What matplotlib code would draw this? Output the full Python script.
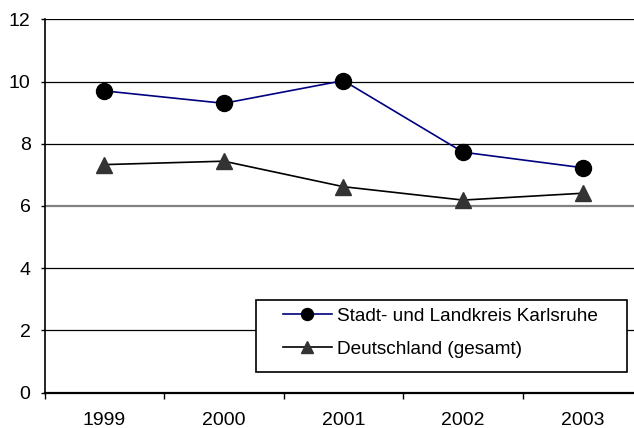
import matplotlib.pyplot as plt
from matplotlib.patches import Rectangle
import numpy as np

plt.rcParams['font.family'] = ['Liberation Sans', 'DejaVu Sans']

years = ['1999', '2000', '2001', '2002', '2003']
karlsruhe = [9.70, 9.30, 10.03, 7.73, 7.23]
deutschland = [7.33, 7.44, 6.62, 6.19, 6.41]

fig = plt.figure(figsize=(6.34, 4.28), dpi=100)
ax = fig.add_axes([0.0702, 0.0825, 0.943, 0.8724])

x = np.arange(len(years))
ax.plot(x, karlsruhe, color='#000080', lw=1.2, marker='o', ms=11.5,
        mfc='black', mec='black', label='Stadt- und Landkreis Karlsruhe', zorder=3)
ax.plot(x, deutschland, color='black', lw=1.2, marker='^', ms=11.5,
        mfc='#333333', mec='#333333', label='Deutschland (gesamt)', zorder=3)

ax.set_xlim(-0.5, len(years) - 0.5)
ax.set_ylim(0, 12)
ax.set_yticks(range(0, 13, 2))
for v in range(2, 13, 2):
    ax.axhline(v, color='#808080' if v == 6 else 'black', lw=1.6 if v == 6 else 0.9, zorder=1)

ax.set_xticks(x)
ax.set_xticklabels(years)
ax.set_xticks(np.arange(-0.5, len(years), 1), minor=True)
ax.tick_params(axis='x', which='major', length=0, pad=14, labelsize=14)
ax.tick_params(axis='x', which='minor', length=4, width=1, direction='out')
ax.tick_params(axis='y', length=3, width=1, direction='out', labelsize=14, pad=7)

for s in ['top', 'right']:
    ax.spines[s].set_visible(False)
ax.spines['left'].set_linewidth(1.2)
ax.spines['bottom'].set_linewidth(1.6)

# legend box drawn by hand, legend itself without frame
box = Rectangle((0.354, 0.0554), 0.621, 0.193, transform=ax.transAxes,
                facecolor='white', edgecolor='black', lw=1.2, zorder=4)
ax.add_patch(box)
leg = ax.legend(loc='center left', bbox_to_anchor=(0.3985, 0.161), fontsize=13.7,
                frameon=False, borderpad=0, borderaxespad=0, markerscale=0.75,
                handlelength=2.6, labelspacing=0.8, handletextpad=0.25)
leg.set_zorder(5)

fig.savefig('out.png', dpi=100)
